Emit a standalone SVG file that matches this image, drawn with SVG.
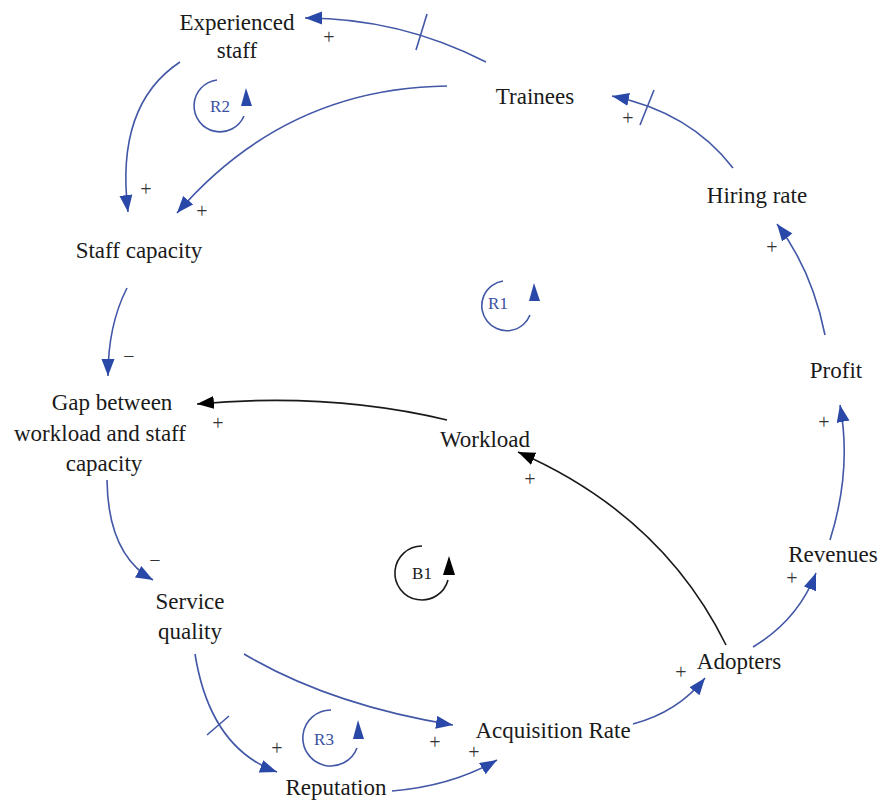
<svg xmlns="http://www.w3.org/2000/svg" width="880" height="801" viewBox="0 0 880 801" font-family="Liberation Serif, Times New Roman, DejaVu Serif, serif">
<defs>
<style>
.n{font-size:23px;fill:#1a1a1a;text-anchor:middle}
.s{font-size:20px;fill:#333;text-anchor:middle}
.lb{font-size:17px;fill:#3a4fa0;text-anchor:middle}
.lk{font-size:17px;fill:#1a1a1a;text-anchor:middle}
.b{fill:none;stroke:#4257a6;stroke-width:1.6;marker-end:url(#ab)}
.k{fill:none;stroke:#1a1a1a;stroke-width:1.6;marker-end:url(#ak)}
.d{stroke:#4257a6;stroke-width:1.6}
.lpb{fill:none;stroke:#4257a6;stroke-width:1.6}
.lpk{fill:none;stroke:#1a1a1a;stroke-width:1.6}
</style>
<marker id="ab" markerUnits="userSpaceOnUse" markerWidth="19" markerHeight="14" refX="17" refY="6.5" orient="auto"><path d="M0,0 L17,6.5 L0,13 Z" fill="#2a48a8"/></marker>
<marker id="ak" markerUnits="userSpaceOnUse" markerWidth="19" markerHeight="14" refX="17" refY="6.5" orient="auto"><path d="M0,0 L17,6.5 L0,13 Z" fill="#000"/></marker>
</defs>
<rect width="880" height="801" fill="#fff"/>

<g id="connectors">
<path class="b" d="M486,62 Q400,18 305,18"/>
<line class="d" x1="416" y1="50" x2="427" y2="14"/>
<path class="b" d="M180,62 Q115,105 128,212"/>
<path class="b" d="M447,86 Q285,88 177,213"/>
<path class="b" d="M733,168 Q690,112 612,96"/>
<line class="d" x1="640" y1="125" x2="654" y2="90"/>
<path class="b" d="M825,335 Q812,270 777,224"/>
<path class="b" d="M830,540 Q852,470 840,405"/>
<path class="b" d="M753,647 Q798,620 816,573"/>
<path class="k" d="M726,645 Q662,515 518,452"/>
<path class="k" d="M447,420 Q330,392 197,404"/>
<path class="b" d="M127,288 Q108,325 108,376"/>
<path class="b" d="M107,480 Q108,555 153,580"/>
<path class="b" d="M244,654 Q330,705 453,725"/>
<path class="b" d="M195,654 Q210,748 277,772"/>
<line class="d" x1="207" y1="735" x2="229" y2="716"/>
<path class="b" d="M392,791 Q452,786 497,760"/>
<path class="b" d="M633,724 Q678,712 705,678"/>
</g>

<g id="polarities">
<text class="s" x="329" y="44">+</text>
<text class="s" x="146" y="196">+</text>
<text class="s" x="202" y="218">+</text>
<text class="s" x="628" y="125">+</text>
<text class="s" x="772" y="254">+</text>
<text class="s" x="129" y="363">−</text>
<text class="s" x="218" y="430">+</text>
<text class="s" x="824" y="429">+</text>
<text class="s" x="530" y="486">+</text>
<text class="s" x="155" y="567">−</text>
<text class="s" x="792" y="585">+</text>
<text class="s" x="681" y="679">+</text>
<text class="s" x="277" y="755">+</text>
<text class="s" x="435" y="749">+</text>
<text class="s" x="474" y="759">+</text>
</g>

<g id="loop-R2">
<path class="lpb" d="M217,80 A26,26 0 1,0 244,116"/>
<polygon points="246,88 241,106 252,106" fill="#2a48a8"/>
<text class="lb" x="220" y="112">R2</text>
</g>
<g id="loop-R1">
<path class="lpb" d="M503,281 A25,25 0 1,0 530,315"/>
<polygon points="534,283 529,301 540,301" fill="#2a48a8"/>
<text class="lb" x="498" y="309">R1</text>
</g>
<g id="loop-B1">
<path class="lpk" d="M422,546 A27,27 0 1,0 448,580"/>
<polygon points="449,556 443,575 455,575" fill="#000"/>
<text class="lk" x="422" y="579">B1</text>
</g>
<g id="loop-R3">
<path class="lpb" d="M331,710 A28,28 0 1,0 357,748"/>
<polygon points="358,720 353,739 364,739" fill="#2a48a8"/>
<text class="lb" x="324" y="745">R3</text>
</g>

<g id="experienced-staff"><text class="n" x="237" y="30">Experienced</text><text class="n" x="237" y="58">staff</text></g>
<g id="trainees"><text class="n" x="535" y="104">Trainees</text></g>
<g id="hiring-rate"><text class="n" x="757" y="203">Hiring rate</text></g>
<g id="staff-capacity"><text class="n" x="139" y="258">Staff capacity</text></g>
<g id="profit"><text class="n" x="836" y="378">Profit</text></g>
<g id="gap"><text class="n" x="112" y="410">Gap between</text><text class="n" x="100" y="441">workload and staff</text><text class="n" x="104" y="471">capacity</text></g>
<g id="workload"><text class="n" x="485" y="447">Workload</text></g>
<g id="revenues"><text class="n" x="833" y="562">Revenues</text></g>
<g id="service-quality"><text class="n" x="190" y="609">Service</text><text class="n" x="190" y="639">quality</text></g>
<g id="adopters"><text class="n" x="739" y="669">Adopters</text></g>
<g id="acquisition-rate"><text class="n" x="553" y="738">Acquisition Rate</text></g>
<g id="reputation"><text class="n" x="336" y="795">Reputation</text></g>
</svg>
